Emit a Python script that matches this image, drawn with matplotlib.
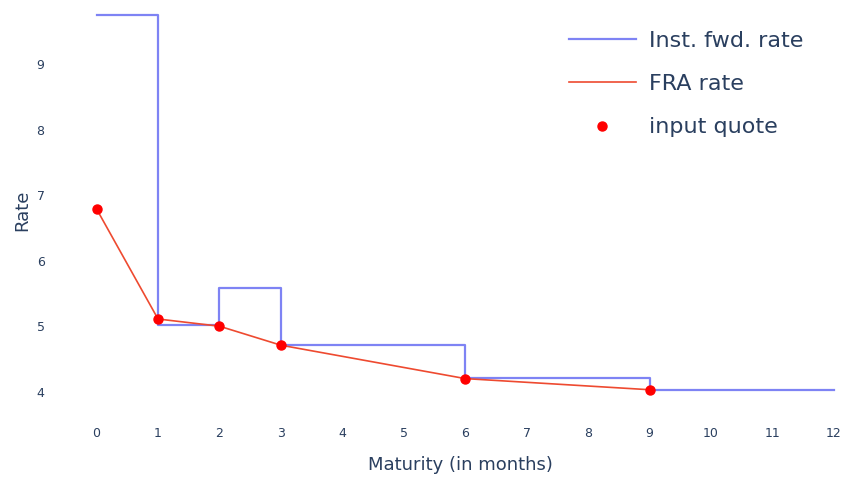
import matplotlib.pyplot as plt

# instantaneous forward rate (piecewise flat, left-continuous nodes)
fwd_x = [0, 1, 2, 3, 6, 9, 12]
fwd_rate = [9.75, 5.02, 5.58, 4.71, 4.21, 4.03, 4.03]

# FRA rate / input quotes
quote_x = [0, 1, 2, 3, 6, 9]
fra_rate = [6.79, 5.11, 5.0, 4.71, 4.2, 4.03]

x_ticks = list(range(0, 13))
y_ticks = [4, 5, 6, 7, 8, 9]

TXT = '#2a3f5f'

fig = plt.figure(figsize=(8.63, 4.97), dpi=100)
ax = fig.add_axes([0.087, 0.175, 0.892, 0.805])

ax.step(fwd_x, fwd_rate, where='post', color='#7e83f4', linewidth=1.6, label='Inst. fwd. rate')
ax.plot(quote_x, fra_rate, color='#ee4a30', linewidth=1.2, label='FRA rate')
ax.plot(quote_x, fra_rate, linestyle='none', marker='o', markersize=6.5,
        color='#ff0000', label='input quote', zorder=5)

ax.set_xlim(-0.35, 12.18)
ax.set_ylim(3.72, 9.83)
ax.set_xticks(x_ticks)
ax.set_yticks(y_ticks)
ax.tick_params(length=0, labelsize=9, labelcolor=TXT, pad=12)
ax.tick_params(axis='y', pad=22)
for s in ax.spines.values():
    s.set_visible(False)

ax.set_xlabel('Maturity (in months)', fontsize=13, color=TXT, labelpad=12)
ax.set_ylabel('Rate', fontsize=13, color=TXT, labelpad=4)

ax.legend(loc='upper right', bbox_to_anchor=(0.972, 0.998), frameon=False,
          fontsize=16, labelcolor=TXT, handlelength=3.0, handletextpad=0.6,
          labelspacing=1.05)

plt.savefig('out.png', dpi=100)
